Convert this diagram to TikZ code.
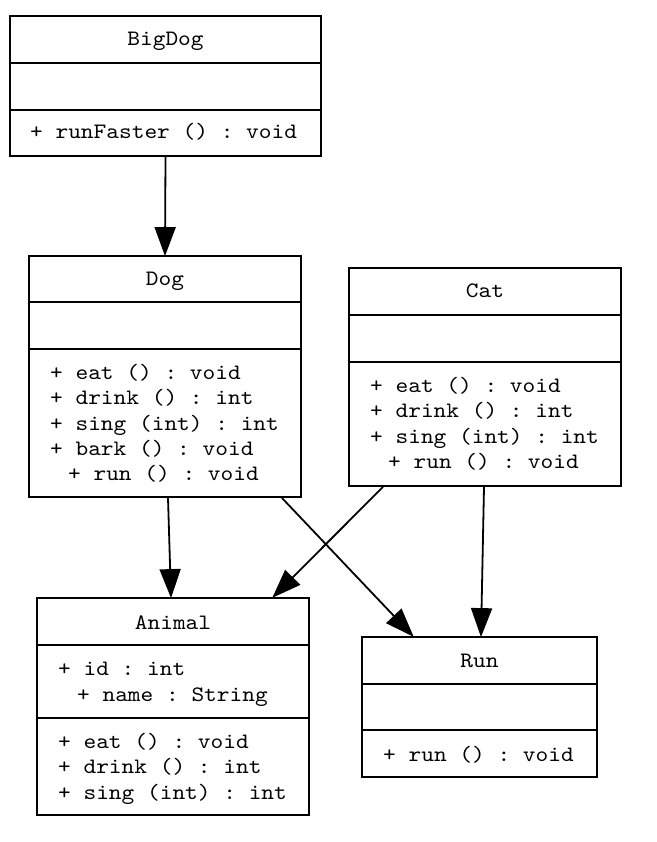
\documentclass[tikz,border=0pt]{standalone}
\usepackage{fontspec}
\setmonofont{lmmono10-regular.otf}[FakeStretch=1.1]
\usetikzlibrary{arrows.meta}
\newcommand{\umlfont}{\ttfamily\fontsize{22}{26}\selectfont}
\begin{document}
\begin{tikzpicture}[x=1pt,y=-1pt,
  box/.style={draw,line width=1.8pt,rectangle,inner sep=0pt},
  divider/.style={line width=1.8pt},
  txt/.style={anchor=base west,inner sep=0pt,font=\umlfont},
  ttl/.style={anchor=base,inner sep=0pt,font=\umlfont},
  conn/.style={line width=1.8pt,-{Triangle[length=29pt,width=21pt]},shorten >=-1pt}]
\useasboundingbox (0,0) rectangle (656,842);
% BigDog
\node[box,minimum width=311pt,minimum height=140pt] (bigdog) at (165.5,86) {};
\draw[divider] (bigdog.west |- 0,63) -- (bigdog.east |- 0,63);
\draw[divider] (bigdog.west |- 0,110) -- (bigdog.east |- 0,110);
\node[ttl] (bigdogT) at (165.5,46) {BigDog};
\node[txt] (bigdogM1) at (30,139) {+ runFaster () : void};
% Dog
\node[box,minimum width=272pt,minimum height=241pt] (dog) at (165,376.5) {};
\draw[divider] (dog.west |- 0,302) -- (dog.east |- 0,302);
\draw[divider] (dog.west |- 0,349) -- (dog.east |- 0,349);
\node[ttl] (dogT) at (165,285) {Dog};
\node[txt] (dogM1) at (50,379) {+ eat () : void};
\node[txt] (dogM2) at (50,404.5) {+ drink () : int};
\node[txt] (dogM3) at (50,430) {+ sing (int) : int};
\node[txt] (dogM4) at (50,455.5) {+ bark () : void};
\node[txt] (dogM5) at (68,480.5) {+ run () : void};
% Cat
\node[box,minimum width=272pt,minimum height=218pt] (cat) at (485,377) {};
\draw[divider] (cat.west |- 0,315) -- (cat.east |- 0,315);
\draw[divider] (cat.west |- 0,362) -- (cat.east |- 0,362);
\node[ttl] (catT) at (485,297.5) {Cat};
\node[txt] (catM1) at (370,392) {+ eat () : void};
\node[txt] (catM2) at (370,417.5) {+ drink () : int};
\node[txt] (catM3) at (370,443) {+ sing (int) : int};
\node[txt] (catM4) at (388,468.5) {+ run () : void};
% Animal
\node[box,minimum width=272pt,minimum height=217pt] (animal) at (173,706.5) {};
\draw[divider] (animal.west |- 0,645) -- (animal.east |- 0,645);
\draw[divider] (animal.west |- 0,718) -- (animal.east |- 0,718);
\node[ttl] (animalT) at (173,629) {Animal};
\node[txt] (animalA1) at (58,675) {+ id : int};
\node[txt] (animalA2) at (77,701) {+ name : String};
\node[txt] (animalM1) at (58,748) {+ eat () : void};
\node[txt] (animalM2) at (58,773.5) {+ drink () : int};
\node[txt] (animalM3) at (58,799) {+ sing (int) : int};
% Run
\node[box,minimum width=235pt,minimum height=140pt] (run) at (479.5,707) {};
\draw[divider] (run.west |- 0,684) -- (run.east |- 0,684);
\draw[divider] (run.west |- 0,730) -- (run.east |- 0,730);
\node[ttl] (runT) at (479.5,667) {Run};
\node[txt] (runM1) at (383,761) {+ run () : void};
% connectors
\draw[conn] (bigdog.south) -- (dog.north);
\draw[conn] ([xshift=3pt]dog.south) -- ([xshift=-2pt]animal.north);
\draw[conn] ([xshift=-20pt]dog.south east) -- ([xshift=-66.5pt]run.north);
\draw[conn] ([xshift=-102pt]cat.south) -- ([xshift=100pt]animal.north);
\draw[conn] ([xshift=-1pt]cat.south) -- ([xshift=1.5pt]run.north);
\end{tikzpicture}
\end{document}
